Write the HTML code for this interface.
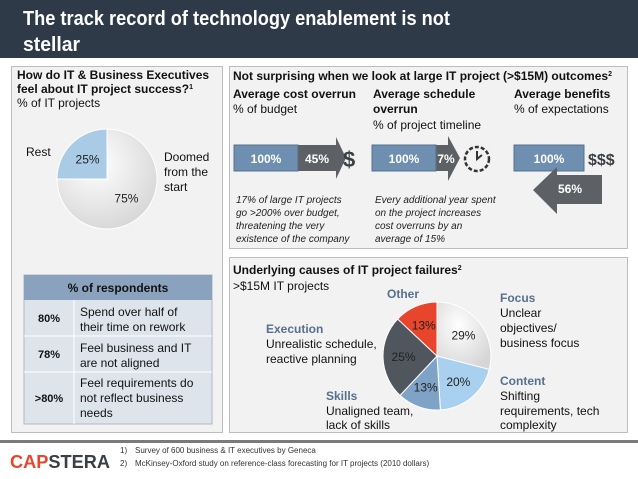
<!DOCTYPE html>
<html><head><meta charset="utf-8"><style>
body{margin:0;background:#fff;}
svg{display:block;font-family:"Liberation Sans",sans-serif;}
</style></head><body>
<svg id="s" width="638" height="479" viewBox="0 0 638 479">
<defs>
<radialGradient id="g1" cx="0.4" cy="0.35" r="0.7"><stop offset="0" stop-color="#ffffff"/><stop offset="1" stop-color="#d6d6d6"/></radialGradient>
</defs>
<rect x="0" y="0" width="638" height="58" fill="#2e3a48"/>
<text x="23" y="25" font-size="20" font-weight="bold" fill="#fff" textLength="427" lengthAdjust="spacingAndGlyphs">The track record of technology enablement is not</text>
<text x="23" y="51" font-size="20" font-weight="bold" fill="#fff" textLength="57" lengthAdjust="spacingAndGlyphs">stellar</text>

<rect x="11.5" y="66.5" width="211" height="366" fill="#f2f2f2" stroke="#bdbdbd"/>
<rect x="229.5" y="66.5" width="398" height="182" fill="#f2f2f2" stroke="#bdbdbd"/>
<rect x="229.5" y="257.5" width="398" height="175" fill="#f2f2f2" stroke="#bdbdbd"/>

<g font-size="12" fill="#111">
<text x="17" y="79" font-weight="bold">How do IT &amp; Business Executives</text>
<text x="17" y="93" font-weight="bold">feel about IT project success?<tspan font-size="7" dy="-4">1</tspan></text>
<text x="17" y="107">% of IT projects</text>
</g>
<g id="pie1"></g>
<g font-size="12" fill="#111">
<text x="26" y="156">Rest</text>
<text x="164" y="161">Doomed</text><text x="164" y="176">from the</text><text x="164" y="191">start</text>
</g>

<g>
<rect x="24" y="275" width="188" height="149" fill="#dde4ec" stroke="#b0b8c2"/>
<rect x="24" y="275" width="188" height="25" fill="#8aa2bd"/>
<line x1="24" y1="336" x2="212" y2="336" stroke="#fff"/>
<line x1="24" y1="372" x2="212" y2="372" stroke="#fff"/>
<line x1="74" y1="300" x2="74" y2="424" stroke="#fff"/>
<text x="118" y="292" font-size="12" font-weight="bold" text-anchor="middle" fill="#111">% of respondents</text>
<g font-size="11" font-weight="bold" text-anchor="middle" fill="#111">
<text x="49" y="322">80%</text><text x="49" y="358">78%</text><text x="49" y="402">&gt;80%</text></g>
<g font-size="12" fill="#111">
<text x="80" y="316">Spend over half of</text><text x="80" y="331">their time on rework</text>
<text x="80" y="352">Feel business and IT</text><text x="80" y="367">are not aligned</text>
<text x="80" y="387">Feel requirements do</text><text x="80" y="402">not reflect business</text><text x="80" y="417">needs</text>
</g></g>

<g font-size="12" fill="#111">
<text x="233" y="80" font-weight="bold">Not surprising when we look at large IT project (&gt;$15M) outcomes<tspan font-size="7" dy="-4">2</tspan></text>
<text x="233" y="98" font-weight="bold">Average cost overrun</text><text x="233" y="113">% of budget</text>
<text x="373" y="98" font-weight="bold">Average schedule</text><text x="373" y="113" font-weight="bold">overrun</text><text x="373" y="129">% of project timeline</text>
<text x="514" y="98" font-weight="bold">Average benefits</text><text x="514" y="113">% of expectations</text>
</g>
<g>
<polygon points="298,145 336,145 336,137 346,158 336,179 336,171 298,171" fill="#5d6166"/>
<rect x="234" y="145" width="64" height="26" fill="#6e8fb0" stroke="#56708d"/>
<text x="266" y="163" font-size="12" font-weight="bold" fill="#fff" text-anchor="middle">100%</text>
<text x="317" y="163" font-size="12" font-weight="bold" fill="#fff" text-anchor="middle">45%</text>
<text x="343" y="167" font-size="22" font-weight="bold" fill="#3b3f44">$</text>
</g>
<g>
<polygon points="436,145 448,145 448,136 460,158 448,181 448,171 436,171" fill="#5d6166"/>
<rect x="372" y="145" width="64" height="26" fill="#6e8fb0" stroke="#56708d"/>
<text x="404" y="163" font-size="12" font-weight="bold" fill="#fff" text-anchor="middle">100%</text>
<text x="446" y="163" font-size="12" font-weight="bold" fill="#fff" text-anchor="middle">7%</text>
<circle cx="477" cy="159" r="12" fill="none" stroke="#333" stroke-width="2.5" stroke-dasharray="4 2"/>
<path d="M477,151 L477,159 L482,155" stroke="#333" stroke-width="2" fill="none"/>
</g>
<g>
<rect x="514" y="145" width="70" height="26" fill="#6e8fb0" stroke="#56708d"/>
<text x="549" y="163" font-size="12" font-weight="bold" fill="#fff" text-anchor="middle">100%</text>
<text x="588" y="165" font-size="16" font-weight="bold" fill="#3b3f44">$$$</text>
<polygon points="602,175 557,175 557,167 533,190 557,214 557,204 602,204" fill="#5d6166"/>
<text x="570" y="193" font-size="12" font-weight="bold" fill="#fff" text-anchor="middle">56%</text>
</g>
<g font-size="10" font-style="italic" fill="#222">
<text x="236" y="203">17% of large IT projects</text><text x="236" y="216">go &gt;200% over budget,</text><text x="236" y="229">threatening the very</text><text x="236" y="242">existence of the company</text>
<text x="375" y="203">Every additional year spent</text><text x="375" y="216">on the project increases</text><text x="375" y="229">cost overruns by an</text><text x="375" y="242">average of 15%</text>
</g>

<g font-size="12" fill="#111">
<text x="233" y="274" font-weight="bold">Underlying causes of IT project failures<tspan font-size="7" dy="-4">2</tspan></text>
<text x="233" y="290">&gt;$15M IT projects</text>
</g>
<g id="pie2"></g>
<g font-size="12" fill="#111">
<text x="387" y="298" font-weight="bold" fill="#56708d">Other</text>
<text x="500" y="302" font-weight="bold" fill="#56708d">Focus</text><text x="500" y="317">Unclear</text><text x="500" y="332">objectives/</text><text x="500" y="347">business focus</text>
<text x="266" y="333" font-weight="bold" fill="#56708d">Execution</text><text x="266" y="348">Unrealistic schedule,</text><text x="266" y="363">reactive planning</text>
<text x="500" y="385" font-weight="bold" fill="#56708d">Content</text><text x="500" y="400">Shifting</text><text x="500" y="415">requirements, tech</text><text x="500" y="429">complexity</text>
<text x="326" y="400" font-weight="bold" fill="#56708d">Skills</text><text x="326" y="415">Unaligned team,</text><text x="326" y="429">lack of skills</text>
</g>

<rect x="0" y="440" width="638" height="3" fill="#7a7a7a"/>
<text x="10" y="468" font-size="18" font-weight="bold" textLength="100" lengthAdjust="spacingAndGlyphs"><tspan fill="#e8452c">CAP</tspan><tspan fill="#3a3f45">STERA</tspan></text>
<g font-size="8" fill="#333">
<text x="120" y="453">1)</text><text x="135" y="453">Survey of 600 business &amp; IT executives by Geneca</text>
<text x="120" y="466">2)</text><text x="135" y="466">McKinsey-Oxford study on reference-class forecasting for IT projects (2010 dollars)</text>
</g>
</svg>
<script>
const pie1Labels=["Doomed from the start","Rest"];
const pie1Values=[75,25];
const pie2Labels=["Focus","Content","Skills","Execution","Other"];
const pie2Values=[29,20,13,25,13];
const NS="http://www.w3.org/2000/svg";
function drawPie(gid,cx,cy,r,vals,labels,colors,textCols,startDeg,lr){
  const g=document.getElementById(gid);
  const tot=vals.reduce((a,b)=>a+b,0);
  let a=startDeg*Math.PI/180;
  vals.forEach((v,i)=>{
    const sw=v/tot*2*Math.PI, a2=a+sw;
    const x1=cx+r*Math.sin(a),y1=cy-r*Math.cos(a),x2=cx+r*Math.sin(a2),y2=cy-r*Math.cos(a2);
    const p=document.createElementNS(NS,"path");
    p.setAttribute("d",`M${cx},${cy} L${x1},${y1} A${r},${r} 0 ${sw>Math.PI?1:0} 1 ${x2},${y2} Z`);
    p.setAttribute("fill",colors[i]);p.setAttribute("stroke","#fff");p.setAttribute("stroke-width","1");
    
    
    g.appendChild(p);
    const m=a+sw/2;
    const t=document.createElementNS(NS,"text");
    t.setAttribute("x",cx+r*lr*Math.sin(m));t.setAttribute("y",cy-r*lr*Math.cos(m)+4);
    t.setAttribute("text-anchor","middle");t.setAttribute("font-size","12");t.setAttribute("fill",textCols[i]);
    t.textContent=v+"%";
    
    
    g.appendChild(t);
    a=a2;
  });
}
drawPie("pie1",107,179,50,pie1Values,pie1Labels,["url(#g1)","#a9cbe6"],["#222","#222"],0,0.55);
drawPie("pie2",437,356,54,pie2Values,pie2Labels,["url(#g1)","#a9d0ef","#7fa3c7","#4f565e","#e8452c"],["#222","#222","#222","#222","#222"],0,0.62);
</script>
</body></html>
